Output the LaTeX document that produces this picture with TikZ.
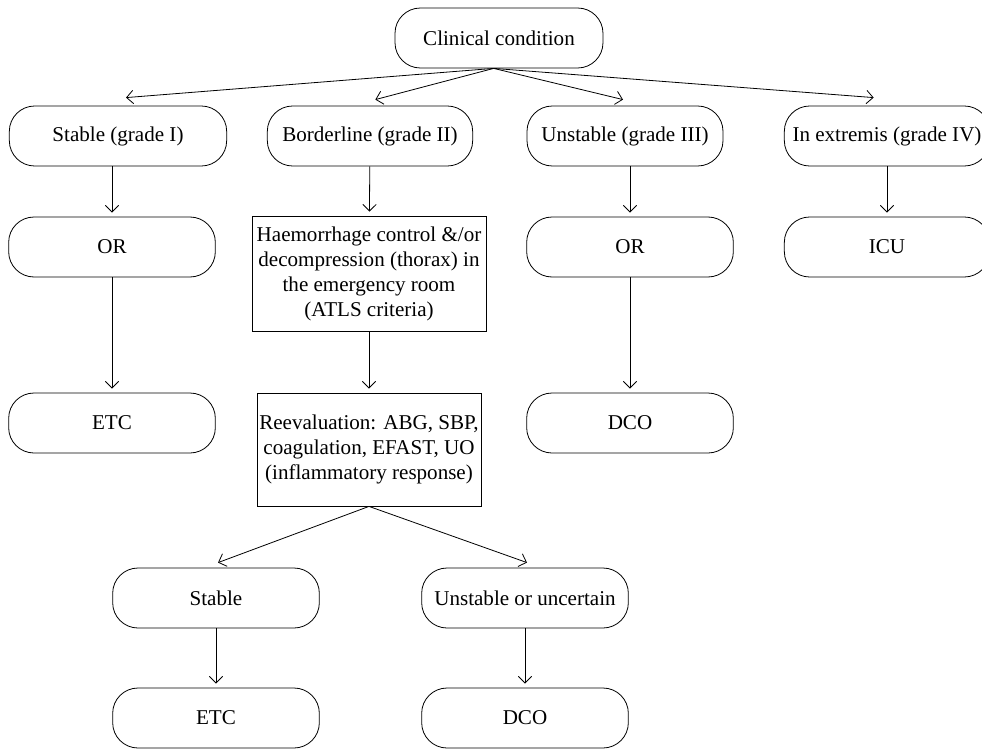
\documentclass[tikz,border=0pt]{standalone}
\usepackage{fontspec}
\setmainfont{Liberation Serif}
\usetikzlibrary{arrows.meta}
\begin{document}
\begin{tikzpicture}[x=0.75pt,y=-0.75pt]
    \tikzstyle{pill}=[draw, rounded corners=19pt, minimum height=45pt, inner sep=0pt, line width=0.6pt, font=\fontsize{15.8}{18.75}\selectfont]
    \tikzstyle{box}=[draw, align=center, inner sep=0pt, line width=0.6pt, font=\fontsize{15.8}{18.75}\selectfont]
    \tikzstyle{arr}=[-{Straight Barb[length=5pt,width=10pt]}, line width=0.6pt]

    \useasboundingbox (0,0) rectangle (982,749);

    \node[pill, minimum width=156pt] (cond) at (499,38) {Clinical condition};

    \node[pill, minimum width=163pt] (stab1) at (118,136) {Stable (grade I)};
    \node[pill, minimum width=154pt] (bord) at (370,136) {Borderline (grade II)};
    \node[pill, minimum width=147pt] (unst) at (625,136) {Unstable (grade III)};
    \node[pill, minimum width=154pt] (extr) at (887,136) {In extremis (grade IV)};

    \node[pill, minimum width=155pt] (or1) at (112,247) {OR};
    \node[box, minimum width=175.5pt, minimum height=86.25pt] (haem) at (369,273.5)
      {Haemorrhage control \&/or\\decompression (thorax) in\\the emergency room\\(ATLS criteria)};
    \node[pill, minimum width=155pt] (or3) at (630,247) {OR};
    \node[pill, minimum width=154pt] (icu) at (887,247) {ICU};

    \node[pill, minimum width=155pt] (etc1) at (112,423) {ETC};
    \node[box, minimum width=168pt, minimum height=84.75pt] (reev) at (369,449.5)
      {Reevaluation: ABG, SBP,\\coagulation, EFAST, UO\\(inflammatory response)};
    \node[pill, minimum width=155pt] (dco3) at (630,423) {DCO};

    \node[pill, minimum width=155pt] (stab4) at (216,598) {Stable};
    \node[pill, minimum width=155pt] (unc) at (525,598) {Unstable or uncertain};

    \node[pill, minimum width=155pt] (etc5) at (216,718) {ETC};
    \node[pill, minimum width=155pt] (dco5) at (525,718) {DCO};

    \coordinate (fork) at ([xshift=-4pt]cond.south);
    \path (fork) edge[arr] ([xshift=6pt,yshift=6pt]stab1.north);
    \path (fork) edge[arr] ([xshift=4pt,yshift=4.5pt]bord.north);
    \path (fork) edge[arr] ([xshift=-1.5pt,yshift=4.5pt]unst.north);
    \path (fork) edge[arr] ([xshift=-10pt,yshift=6pt]extr.north);

    \path (stab1.south -| or1) edge[arr, shorten >=3pt] (or1.north);
    \path (or1) edge[arr, shorten >=3pt] (etc1);
    \path (bord) edge[arr, shorten >=3pt] (haem);
    \path (haem) edge[arr, shorten >=3pt] (reev);
    \path (unst.south -| or3) edge[arr, shorten >=3pt] (or3.north);
    \path (or3) edge[arr, shorten >=3pt] (dco3);
    \path (extr) edge[arr, shorten >=3pt] (icu);

    \path (reev.south) edge[arr] ([xshift=1.5pt,yshift=3.75pt]stab4.north);
    \path (reev.south) edge[arr] ([xshift=1.5pt,yshift=3.75pt]unc.north);
    \path (stab4) edge[arr, shorten >=3pt] (etc5);
    \path (unc) edge[arr, shorten >=3pt] (dco5);
  \end{tikzpicture}
\end{document}
